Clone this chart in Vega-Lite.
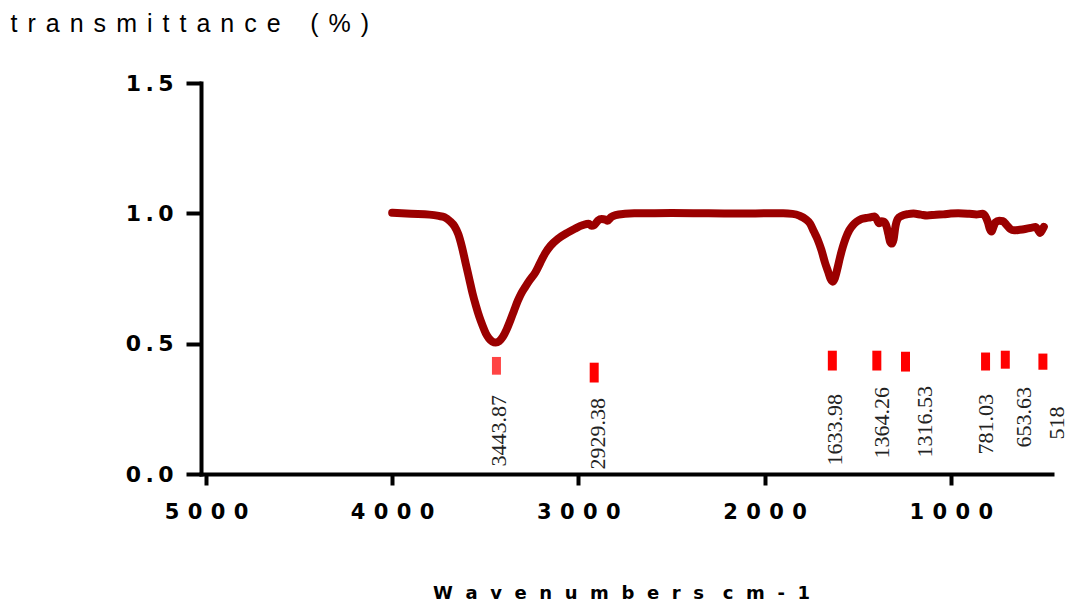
{
  "$schema": "https://vega.github.io/schema/vega-lite/v6.json",
  "autosize": {"type": "none"},
  "padding": {"left": 201, "top": 83, "right": 20, "bottom": 138},
  "width": 851,
  "height": 391,
  "background": "white",
  "config": {"view": {"stroke": null}},
  "datasets": {
    "spectrum": [
      {"wn": 4000, "t": 1.002}, {"wn": 3900, "t": 0.998}, {"wn": 3800, "t": 0.995}, {"wn": 3750, "t": 0.99},
      {"wn": 3720, "t": 0.985}, {"wn": 3690, "t": 0.97}, {"wn": 3665, "t": 0.95}, {"wn": 3645, "t": 0.92},
      {"wn": 3625, "t": 0.87}, {"wn": 3605, "t": 0.807}, {"wn": 3585, "t": 0.745}, {"wn": 3568, "t": 0.692},
      {"wn": 3550, "t": 0.645}, {"wn": 3532, "t": 0.603}, {"wn": 3515, "t": 0.57}, {"wn": 3497, "t": 0.539},
      {"wn": 3480, "t": 0.52}, {"wn": 3462, "t": 0.508}, {"wn": 3444, "t": 0.504}, {"wn": 3425, "t": 0.51},
      {"wn": 3405, "t": 0.527}, {"wn": 3385, "t": 0.555}, {"wn": 3365, "t": 0.59}, {"wn": 3345, "t": 0.628},
      {"wn": 3325, "t": 0.665}, {"wn": 3305, "t": 0.695}, {"wn": 3285, "t": 0.718}, {"wn": 3260, "t": 0.745},
      {"wn": 3232, "t": 0.772}, {"wn": 3205, "t": 0.81}, {"wn": 3179, "t": 0.846}, {"wn": 3150, "t": 0.875},
      {"wn": 3108, "t": 0.903}, {"wn": 3060, "t": 0.925}, {"wn": 3019, "t": 0.941}, {"wn": 2975, "t": 0.955},
      {"wn": 2945, "t": 0.96}, {"wn": 2929, "t": 0.952}, {"wn": 2915, "t": 0.955}, {"wn": 2895, "t": 0.972},
      {"wn": 2875, "t": 0.978}, {"wn": 2855, "t": 0.976}, {"wn": 2843, "t": 0.972}, {"wn": 2825, "t": 0.985},
      {"wn": 2800, "t": 0.993}, {"wn": 2750, "t": 0.998}, {"wn": 2700, "t": 1.0}, {"wn": 2500, "t": 1.001},
      {"wn": 2300, "t": 1.0}, {"wn": 2100, "t": 0.999}, {"wn": 2000, "t": 1.0}, {"wn": 1900, "t": 1.0},
      {"wn": 1850, "t": 0.998}, {"wn": 1810, "t": 0.99}, {"wn": 1780, "t": 0.978}, {"wn": 1755, "t": 0.96},
      {"wn": 1735, "t": 0.93}, {"wn": 1715, "t": 0.9}, {"wn": 1695, "t": 0.86}, {"wn": 1675, "t": 0.81},
      {"wn": 1658, "t": 0.775}, {"wn": 1645, "t": 0.748}, {"wn": 1634, "t": 0.738}, {"wn": 1622, "t": 0.752},
      {"wn": 1608, "t": 0.79}, {"wn": 1595, "t": 0.83}, {"wn": 1580, "t": 0.87}, {"wn": 1565, "t": 0.903},
      {"wn": 1545, "t": 0.935}, {"wn": 1525, "t": 0.955}, {"wn": 1505, "t": 0.968}, {"wn": 1480, "t": 0.978},
      {"wn": 1455, "t": 0.982}, {"wn": 1430, "t": 0.985}, {"wn": 1410, "t": 0.988}, {"wn": 1398, "t": 0.978},
      {"wn": 1385, "t": 0.962}, {"wn": 1372, "t": 0.97}, {"wn": 1360, "t": 0.968}, {"wn": 1345, "t": 0.95},
      {"wn": 1335, "t": 0.92}, {"wn": 1325, "t": 0.89}, {"wn": 1316, "t": 0.884}, {"wn": 1307, "t": 0.9},
      {"wn": 1298, "t": 0.945}, {"wn": 1285, "t": 0.978}, {"wn": 1265, "t": 0.99}, {"wn": 1230, "t": 0.997},
      {"wn": 1200, "t": 0.999}, {"wn": 1160, "t": 0.995}, {"wn": 1127, "t": 0.992}, {"wn": 1080, "t": 0.995},
      {"wn": 1040, "t": 0.996}, {"wn": 1000, "t": 0.999}, {"wn": 960, "t": 1.0}, {"wn": 900, "t": 0.998},
      {"wn": 862, "t": 0.996}, {"wn": 830, "t": 0.998}, {"wn": 815, "t": 0.99}, {"wn": 800, "t": 0.965},
      {"wn": 790, "t": 0.94}, {"wn": 781, "t": 0.93}, {"wn": 772, "t": 0.945}, {"wn": 760, "t": 0.965},
      {"wn": 740, "t": 0.972}, {"wn": 720, "t": 0.97}, {"wn": 700, "t": 0.955}, {"wn": 680, "t": 0.94},
      {"wn": 660, "t": 0.935}, {"wn": 630, "t": 0.937}, {"wn": 600, "t": 0.94}, {"wn": 570, "t": 0.944},
      {"wn": 545, "t": 0.948}, {"wn": 530, "t": 0.935}, {"wn": 520, "t": 0.925}, {"wn": 510, "t": 0.935},
      {"wn": 500, "t": 0.948}
    ],
    "peaks": [
      {"label": "3443.87", "wn": 3440, "lo": 0.381, "hi": 0.449, "lx": 3425, "ly": 0.029, "shade": "light"},
      {"label": "2929.38", "wn": 2915, "lo": 0.351, "hi": 0.427, "lx": 2894, "ly": 0.017, "shade": "normal"},
      {"label": "1633.98", "wn": 1636, "lo": 0.397, "hi": 0.473, "lx": 1622, "ly": 0.033, "shade": "normal"},
      {"label": "1364.26", "wn": 1397, "lo": 0.397, "hi": 0.473, "lx": 1367, "ly": 0.059, "shade": "normal"},
      {"label": "1316.53", "wn": 1243, "lo": 0.393, "hi": 0.469, "lx": 1138, "ly": 0.063, "shade": "normal"},
      {"label": "781.03", "wn": 813, "lo": 0.397, "hi": 0.466, "lx": 810, "ly": 0.075, "shade": "normal"},
      {"label": "653.63", "wn": 707, "lo": 0.404, "hi": 0.473, "lx": 608, "ly": 0.102, "shade": "normal"},
      {"label": "518", "wn": 505, "lo": 0.4, "hi": 0.462, "lx": 427, "ly": 0.132, "shade": "normal"}
    ]
  },
  "layer": [
    {
      "data": {"name": "spectrum"},
      "mark": {"type": "line", "color": "#9b0000", "strokeWidth": 8, "strokeCap": "round", "strokeJoin": "round", "interpolate": "monotone", "clip": false},
      "encoding": {
        "x": {
          "field": "wn", "type": "quantitative",
          "scale": {"domain": [483, 5000], "reverse": true, "nice": false, "zero": false},
          "axis": {
            "values": [5000, 4000, 3000, 2000, 1000],
            "format": "d",
            "labelExpr": "join(split(datum.label, ''), '\u2009\u2009')",
            "grid": false,
            "domainColor": "black", "domainWidth": 4, "domainCap": "square",
            "tickColor": "black", "tickWidth": 4, "tickSize": 11,
            "labelFont": "DejaVu Sans", "labelFontWeight": "bold", "labelFontSize": 21, "labelColor": "black",
            "labelPadding": 16, "labelFlush": false, "labelOverlap": false,
            "title": "W\u2002\u2009a\u2002\u2009v\u2002\u2009e\u2002\u2009n\u2002\u2009u\u2002\u2009m\u2002\u2009b\u2002\u2009e\u2002\u2009r\u2002\u2009s\u2002\u2009 c\u2002\u2009m\u2002\u2009-\u2002\u20091",
            "titleFont": "DejaVu Sans", "titleFontWeight": "bold", "titleFontSize": 18, "titleColor": "black",
            "titleAlign": "center", "titleBaseline": "alphabetic", "titleX": 420, "titleY": 124
          }
        },
        "y": {
          "field": "t", "type": "quantitative",
          "scale": {"domain": [0, 1.5], "nice": false},
          "axis": {
            "values": [0, 0.5, 1, 1.5],
            "format": ".1f",
            "labelExpr": "join(split(datum.label, ''), '\u2009')",
            "grid": false,
            "domainColor": "black", "domainWidth": 4, "domainCap": "square",
            "tickColor": "black", "tickWidth": 4, "tickSize": 15,
            "labelFont": "DejaVu Sans", "labelFontWeight": "bold", "labelFontSize": 22, "labelColor": "black",
            "labelPadding": 13, "labelFlush": false, "labelOverlap": false, "labelBaseline": "middle",
            "title": "t\u2009\u2009r\u2009\u2009a\u2009\u2009n\u2009\u2009s\u2009\u2009m\u2009\u2009i\u2009\u2009t\u2009\u2009t\u2009\u2009a\u2009\u2009n\u2009\u2009c\u2009\u2009e\u2009\u2009\u2002 (\u2009\u2009%\u2009\u2009)",
            "titleFont": "Liberation Sans", "titleFontWeight": "normal", "titleFontSize": 25, "titleColor": "black",
            "titleAngle": 0, "titleAlign": "left", "titleBaseline": "alphabetic", "titleX": -191, "titleY": -52
          }
        }
      }
    },
    {
      "data": {"name": "peaks"},
      "mark": {"type": "bar", "size": 9},
      "encoding": {
        "x": {"field": "wn", "type": "quantitative"},
        "y": {"field": "lo", "type": "quantitative"},
        "y2": {"field": "hi"},
        "color": {"field": "shade", "type": "nominal", "scale": {"domain": ["light", "normal"], "range": ["#ff4444", "#ff0000"]}, "legend": null}
      }
    },
    {
      "data": {"name": "peaks"},
      "mark": {"type": "text", "angle": 270, "align": "left", "baseline": "middle", "font": "Liberation Serif", "fontSize": 22, "color": "#222222", "clip": false},
      "encoding": {
        "x": {"field": "lx", "type": "quantitative"},
        "y": {"field": "ly", "type": "quantitative"},
        "text": {"field": "label"}
      }
    }
  ]
}
